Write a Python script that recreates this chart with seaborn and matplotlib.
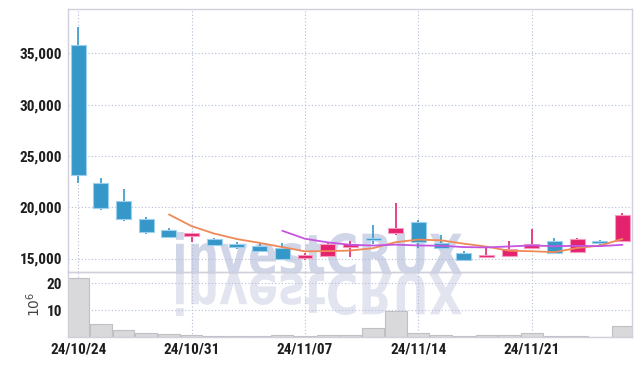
import numpy as np
import pandas as pd
import seaborn as sns
import matplotlib.pyplot as plt
from matplotlib import font_manager
from matplotlib.textpath import TextPath
from matplotlib.patches import PathPatch
from matplotlib.font_manager import FontProperties
from matplotlib.transforms import Affine2D, IdentityTransform

# trading days (weekends skipped)
dates = ["24/10/24", "24/10/25", "24/10/28", "24/10/29", "24/10/30",
         "24/10/31", "24/11/01", "24/11/04", "24/11/05", "24/11/06",
         "24/11/07", "24/11/08", "24/11/11", "24/11/12", "24/11/13",
         "24/11/14", "24/11/15", "24/11/18", "24/11/19", "24/11/20",
         "24/11/21", "24/11/22", "24/11/25", "24/11/26", "24/11/27"]
opens = [35800, 22350, 20620, 18850, 17770, 17160, 16890, 16370, 16200, 16010,
         15070, 15230, 16110, 16960, 17520, 18560, 16500, 15490, 15100, 15260,
         16010, 16670, 15660, 16700, 16700]
highs = [37620, 22900, 21760, 19090, 17940, 17450, 17030, 16640, 16540, 16540,
         15490, 16600, 16700, 18260, 20390, 18730, 17320, 15690, 16110, 16700,
         17910, 16990, 17030, 16830, 19410]
lows = [22350, 19700, 18660, 17420, 17060, 16640, 16180, 15950, 15690, 15000,
        14870, 15230, 15170, 16440, 17250, 15980, 15950, 14830, 15100, 15260,
        16010, 15560, 15660, 16150, 16700]
closes = [23170, 19900, 18820, 17550, 17060, 17450, 16270, 16150, 15690, 15000,
          15390, 16370, 16440, 16830, 17940, 16640, 16010, 14830, 15360, 15950,
          16400, 15560, 16860, 16500, 19250]
volumes = [21.9, 4.9, 2.7, 1.6, 1.1, 0.75, 0.4, 0.4, 0.4, 0.75,
           0.4, 0.75, 0.75, 3.3, 9.7, 1.5, 0.75, 0.4, 0.75, 0.75,
           1.5, 0.4, 0.4, 0.1, 4.1]  # millions

UP = "#e5226e"
DOWN = "#3598c8"

df = pd.DataFrame({"date": dates, "open": opens, "high": highs,
                   "low": lows, "close": closes, "volume": volumes})
df["i"] = np.arange(len(df))
df["ma5"] = df["close"].rolling(5).mean()
df["ma10"] = df["close"].rolling(10).mean()

# pick a narrow-ish font if one is there
installed = {f.name for f in font_manager.fontManager.ttflist}
font = next((f for f in ["Liberation Sans Narrow", "DejaVu Sans Condensed",
                         "Roboto Condensed", "Roboto", "Lato"] if f in installed),
            "DejaVu Sans")

sns.set_theme(style="white")
plt.rcParams["font.family"] = [font, "DejaVu Sans"]

fig = plt.figure(figsize=(6.42, 3.66), dpi=100, facecolor="white")
ax = fig.add_axes([68 / 642, 1 - 272.3 / 366, 564 / 642, 263 / 366])
axv = fig.add_axes([68 / 642, 1 - 337.3 / 366, 564 / 642, 65 / 366])
for a in (ax, axv):
    a.set_facecolor("none")
    for s in a.spines.values():
        s.set_color("#cfd0dc")
        s.set_linewidth(1)
    a.grid(True, color="#b4bdd6", linestyle=(0, (1, 2)), linewidth=0.8)
    a.set_axisbelow(True)
    a.tick_params(length=0, labelsize=11, colors="#1e1e1e", pad=4)

# candles
up = df["close"] >= df["open"]
colors = np.where(up, UP, DOWN)
edges = np.where(up, "#f59ac0", "#9cd0ee")
body_lo = np.minimum(df["open"], df["close"])
body_h = np.maximum(np.abs(df["close"] - df["open"]), 120)
ax.vlines(df["i"], df["low"], df["high"], colors=colors, linewidth=1.2, zorder=3)
ax.bar(df["i"], body_h, bottom=body_lo, width=0.66, color=colors,
       edgecolor=edges, linewidth=0.8, zorder=4)

sns.lineplot(data=df, x="i", y="ma5", ax=ax, color="#ef8a58", linewidth=1.3, zorder=5)
sns.lineplot(data=df, x="i", y="ma10", ax=ax, color="#c455e0", linewidth=1.3, zorder=5)

ax.set_xlim(-0.45, 24.42)
ax.set_ylim(13654, 39312)
ax.set_yticks([15000, 20000, 25000, 30000, 35000])
ax.set_yticklabels([f"{v:,}" for v in [15000, 20000, 25000, 30000, 35000]],
                   fontweight="bold")
ax.set_xticks(range(0, 25, 5))
ax.set_xticklabels([])
ax.set_xlabel("")
ax.set_ylabel("")

# volume
sns.barplot(data=df, x="i", y="volume", ax=axv, native_scale=True, width=0.96,
            color="#d9d9dc", edgecolor="#bfbfc4", linewidth=0.8, saturation=1)
axv.set_xlim(-0.45, 24.42)
axv.set_ylim(0, 24.07)
axv.set_yticks([10, 20])
axv.set_yticklabels(["10", "20"], fontweight="bold")
axv.set_xticks(range(0, 25, 5))
axv.set_xticklabels([dates[k] for k in range(0, 25, 5)], fontweight="bold")
axv.set_xlabel("")
axv.set_ylabel("10$^6$", fontsize=10, color="#444444", labelpad=3,
               family="DejaVu Sans")

# watermark with reflection
fp = FontProperties(family="DejaVu Sans", weight="bold")
tp = TextPath((0, 0), "investCRUX", size=50, prop=fp)
ext = tp.get_extents()
x0, x1, base, top = 176, 462, 366 - 274, 366 - 232
sx = (x1 - x0) / ext.width
sy = (top - base) / ext.y1
main = Affine2D().translate(-ext.x0, 0).scale(sx, sy).translate(x0, base)
refl = Affine2D().translate(-ext.x0, 0).scale(sx, -sy).translate(x0, base)
fig.patches.append(PathPatch(main.transform_path(tp), facecolor="#d0d6e8",
                             edgecolor="none",
                             transform=IdentityTransform(), zorder=-1, figure=fig))
fig.patches.append(PathPatch(refl.transform_path(tp), facecolor="#e2e5f0",
                             edgecolor="none",
                             transform=IdentityTransform(), zorder=-1, figure=fig))

fig.savefig("out.png", dpi=100, facecolor="white")
